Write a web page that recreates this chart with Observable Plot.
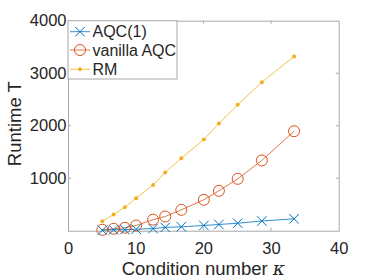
<!DOCTYPE html>
<html><head><meta charset="utf-8">
<script src="https://cdn.jsdelivr.net/npm/d3@7"></script>
<script src="https://cdn.jsdelivr.net/npm/@observablehq/plot@0.6"></script>
<style>
body{margin:0;background:#fff}
#chart svg{font-family:"Liberation Sans",Arial,Helvetica,sans-serif}
</style>
</head><body><div id="chart"></div>
<script>
// data
const kappa   = [5, 6.67, 8.33, 10, 12.5, 14.29, 16.67, 20, 22.22, 25, 28.57, 33.33];
const aqc1    = [19, 27, 30, 38, 50, 72, 84, 109, 128, 152, 194, 236];
const vanilla = [27, 46, 65, 109, 220, 280, 407, 598, 769, 998, 1347, 1905];
const rm      = [190, 318, 457, 629, 880, 1118, 1390, 1747, 2051, 2408, 2838, 3328];
const seriesNames = ["AQC(1)", "vanilla AQC", "RM"];
const xTicks = [0, 10, 20, 30, 40];
const yTicks = [1000, 2000, 3000, 4000];
const xLabel = "Condition number ";
const xLabelSym = "κ";
const yLabel = "Runtime T";

const colors = ["#0072BD", "#D95319", "#EDB120"];
const axisColor = "#a8a8a8";
const textColor = "#262626";

const toRows = (vals, s) => kappa.map((k, i) => ({k, v: vals[i], s}));
const dA = toRows(aqc1, seriesNames[0]);
const dV = toRows(vanilla, seriesNames[1]);
const dR = toRows(rm, seriesNames[2]);

const chart = Plot.plot({
  width: 374, height: 280,
  marginLeft: 68, marginRight: 35.3, marginTop: 20.7, marginBottom: 49.3,
  style: {fontFamily: '"Liberation Sans",Arial,Helvetica,sans-serif', fontSize: "16.5px", color: textColor, background: "#fff", overflow: "visible"},
  x: {domain: [0, 40], ticks: xTicks, tickSize: 0, tickPadding: 10.6, label: null, tickFormat: d3.format("d")},
  y: {domain: [0, 4000], ticks: yTicks, tickSize: 0, tickPadding: 2, label: null, tickFormat: d3.format("d")},
  marks: [
    Plot.frame({stroke: axisColor, strokeWidth: 1}),
    Plot.line(dR, {x: "k", y: "v", stroke: colors[2], strokeWidth: 0.8}),
    Plot.dot(dR, {x: "k", y: "v", fill: colors[2], r: 2, stroke: "none"}),
    Plot.line(dV, {x: "k", y: "v", stroke: colors[1], strokeWidth: 0.8}),
    Plot.dot(dV, {x: "k", y: "v", stroke: colors[1], r: 5.5, strokeWidth: 1, fill: "none"}),
    Plot.line(dA, {x: "k", y: "v", stroke: colors[0], strokeWidth: 0.8}),
    Plot.dot(dA, {x: "k", y: "v", stroke: colors[0], r: 4.4, symbol: "times", strokeWidth: 1})
  ]
});
document.getElementById("chart").appendChild(chart);

const sx = chart.scale("x"), sy = chart.scale("y");
const svg = d3.select(chart);
const x0 = sx.apply(0), x1 = sx.apply(40), y0 = sy.apply(0), y1 = sy.apply(4000);
const tl = 3;
const g = svg.append("g").attr("stroke", axisColor).attr("stroke-width", 1);
xTicks.slice(1, -1).forEach(t => {
  const px = sx.apply(t);
  g.append("line").attr("x1", px).attr("x2", px).attr("y1", y0).attr("y2", y0 - tl);
  g.append("line").attr("x1", px).attr("x2", px).attr("y1", y1).attr("y2", y1 + tl);
});
yTicks.slice(0, -1).forEach(t => {
  const py = sy.apply(t);
  g.append("line").attr("x1", x0).attr("x2", x0 + tl).attr("y1", py).attr("y2", py);
  g.append("line").attr("x1", x1).attr("x2", x1 - tl).attr("y1", py).attr("y2", py);
});

// axis labels
const xl = svg.append("text").attr("x", (x0 + x1) / 2).attr("y", 275)
  .attr("text-anchor", "middle").attr("fill", textColor).attr("font-size", "18.5px");
xl.append("tspan").text(xLabel);
xl.append("tspan").attr("font-style", "italic").attr("font-family", '"DejaVu Serif",serif').text(xLabelSym);
svg.append("text").attr("transform", `translate(20.7,${(y0 + y1) / 2 - 2}) rotate(-90)`)
  .attr("text-anchor", "middle").attr("fill", textColor).attr("font-size", "18.5px").text(yLabel);

// legend
const lg = svg.append("g");
lg.append("rect").attr("x", x0).attr("y", y1).attr("width", 109).attr("height", 58.3)
  .attr("fill", "#fff").attr("stroke", axisColor).attr("stroke-width", 1);
const rowsY = [31.7, 50, 69.3];
const sym = [d3.symbolTimes, d3.symbolCircle, d3.symbolCircle];
const sz = [Math.PI * 4.4 * 4.4, Math.PI * 5.5 * 5.5, Math.PI * 4];
seriesNames.forEach((name, i) => {
  const yy = rowsY[i];
  lg.append("line").attr("x1", 70).attr("x2", 90).attr("y1", yy).attr("y2", yy)
    .attr("stroke", colors[i]).attr("stroke-width", 0.8);
  const p = lg.append("path").attr("d", d3.symbol(sym[i], sz[i])())
    .attr("transform", `translate(80,${yy})`);
  if (i === 2) p.attr("fill", colors[i]);
  else p.attr("fill", "none").attr("stroke", colors[i]).attr("stroke-width", 1);
  lg.append("text").attr("x", 92.5).attr("y", yy).attr("dy", "0.35em")
    .attr("text-anchor", "start")
    .attr("fill", textColor).attr("font-size", "16px").text(name);
});
</script>
</body></html>
